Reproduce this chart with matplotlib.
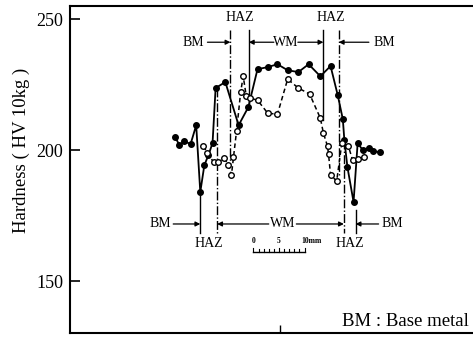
import matplotlib
matplotlib.use("Agg")
import matplotlib.pyplot as plt

plt.rcParams["font.family"] = ["Liberation Serif", "DejaVu Serif"]

# Hardness traverse across the weld, position in mm from the weld centre
pos_a = [-20.6, -19.8, -18.8, -17.6, -16.5, -15.7, -14.9, -14.1, -13.3, -12.7,
         -10.8, -8.2, -6.3, -4.5, -2.5, -0.6, 1.4, 3.5, 5.5, 7.8,
         9.8, 11.2, 12.2, 12.5, 13.1, 14.3, 15.1, 16.1, 17.3, 18.2, 19.4]
hv_a = [205.0, 201.9, 203.4, 202.3, 209.5, 184.0, 194.3, 198.1, 202.7, 223.7,
        226.0, 209.5, 216.4, 230.9, 231.7, 232.8, 230.5, 229.8, 232.8, 228.2,
        232.1, 221.0, 211.8, 203.8, 193.5, 180.2, 202.7, 200.0, 200.8, 199.6, 199.2]

pos_b = [-15.1, -14.3, -13.1, -12.2, -11.0, -10.2, -9.6, -9.2, -8.6, -7.8,
         -7.3, -6.7, -5.9, -4.5, -2.5, -0.6, 1.4, 3.5, 5.7, 7.8,
         8.4, 9.2, 9.4, 9.8, 11.0, 12.0, 13.3, 14.1, 15.1, 16.3]
hv_b = [201.5, 198.9, 195.4, 195.4, 196.9, 194.3, 190.5, 197.3, 207.3, 222.1,
        228.2, 220.6, 219.8, 219.1, 214.1, 213.7, 227.1, 223.7, 221.4, 212.2,
        206.5, 201.5, 198.5, 190.5, 188.2, 202.7, 201.5, 196.2, 196.6, 197.3]

# zone boundaries (x, y_from, y_to, style) for upper and lower traverse
upper_bounds = [(-9.8, 245.8, 194.3, "-."), (-6.2, 245.8, 216.4, "-"),
                (8.4, 245.8, 211.5, "-"), (11.4, 245.8, 190.5, "-.")]
lower_bounds = [(-15.7, 184.0, 168.3, "-"), (-12.4, 223.7, 168.3, "-."),
                (12.4, 203.8, 168.3, "-."), (14.7, 177.1, 168.3, "-")]

fig = plt.figure(figsize=(4.73, 3.38), dpi=100)
ax = fig.add_axes([0.148, 0.015, 0.849, 0.967])

ax.plot(pos_a, hv_a, "-", color="black", lw=1.3, marker="o", ms=4,
        mfc="black", mec="black", zorder=3)
ax.plot(pos_b, hv_b, color="black", lw=1.1, ls=(0, (3, 2)), marker="o", ms=4,
        mfc="white", mec="black", mew=1.0, zorder=3)

for x, y0, y1, ls in upper_bounds + lower_bounds:
    ax.plot([x, x], [y0, y1], color="black", lw=1.0, ls=ls, zorder=2)

arrow = dict(arrowstyle="-|>", color="black", lw=0.9, mutation_scale=7,
             shrinkA=0, shrinkB=0)
fs = 10

# upper zone labels
ax.text(-8.0, 250.8, "HAZ", ha="center", va="center", fontsize=fs)
ax.text(9.8, 250.8, "HAZ", ha="center", va="center", fontsize=fs)
ax.text(-17.0, 241.2, "BM", ha="center", va="center", fontsize=fs)
ax.annotate("", xy=(-9.8, 241.2), xytext=(-14.3, 241.2), arrowprops=arrow)
ax.text(1.0, 241.2, "WM", ha="center", va="center", fontsize=fs)
ax.annotate("", xy=(-6.2, 241.2), xytext=(-1.3, 241.2), arrowprops=arrow)
ax.annotate("", xy=(8.4, 241.2), xytext=(3.4, 241.2), arrowprops=arrow)
ax.text(20.4, 241.2, "BM", ha="center", va="center", fontsize=fs)
ax.annotate("", xy=(11.4, 241.2), xytext=(17.3, 241.2), arrowprops=arrow)

# lower zone labels
ax.text(-23.6, 171.8, "BM", ha="center", va="center", fontsize=fs)
ax.annotate("", xy=(-15.7, 171.8), xytext=(-21.0, 171.8), arrowprops=arrow)
ax.text(0.4, 171.8, "WM", ha="center", va="center", fontsize=fs)
ax.annotate("", xy=(-12.4, 171.8), xytext=(-2.3, 171.8), arrowprops=arrow)
ax.annotate("", xy=(12.4, 171.8), xytext=(3.1, 171.8), arrowprops=arrow)
ax.text(21.8, 171.8, "BM", ha="center", va="center", fontsize=fs)
ax.annotate("", xy=(14.7, 171.8), xytext=(19.2, 171.8), arrowprops=arrow)
ax.text(-14.1, 164.5, "HAZ", ha="center", va="center", fontsize=fs)
ax.text(13.5, 164.5, "HAZ", ha="center", va="center", fontsize=fs)

# 10 mm scale bar
bar_x0, bar_y = -5.3, 161.1
ax.plot([bar_x0, bar_x0 + 10], [bar_y, bar_y], color="black", lw=1.0)
for i in range(11):
    h = 1.6 if i in (0, 5, 10) else 1.0
    ax.plot([bar_x0 + i, bar_x0 + i], [bar_y, bar_y + h], color="black", lw=0.8)
ax.text(bar_x0, 165.3, "0", ha="center", va="center", fontsize=5.5, weight="bold")
ax.text(bar_x0 + 5, 165.3, "5", ha="center", va="center", fontsize=5.5, weight="bold")
ax.text(bar_x0 + 9.4, 165.3, "10mm", ha="left", va="center", fontsize=5.5, weight="bold")

ax.text(0.993, 0.02, "BM : Base metal", transform=ax.transAxes, ha="right",
        va="baseline", fontsize=13.5)

ax.set_xlim(-41.2, 37.4)
ax.set_ylim(130.2, 255.0)
ax.set_yticks([150, 200, 250])
ax.set_xticks([0])
ax.set_xticklabels([])
ax.tick_params(axis="y", direction="in", length=7, width=1.2, labelsize=13, pad=5)
ax.tick_params(axis="x", direction="in", length=6, width=1.0)
ax.spines["right"].set_visible(False)
for s in ("left", "top", "bottom"):
    ax.spines[s].set_linewidth(1.5)
ax.set_ylabel("Hardness ( HV 10kg )", fontsize=13.5, labelpad=6)
ax.yaxis.set_label_coords(-0.10, 0.56)

fig.savefig("out.png", dpi=100)
